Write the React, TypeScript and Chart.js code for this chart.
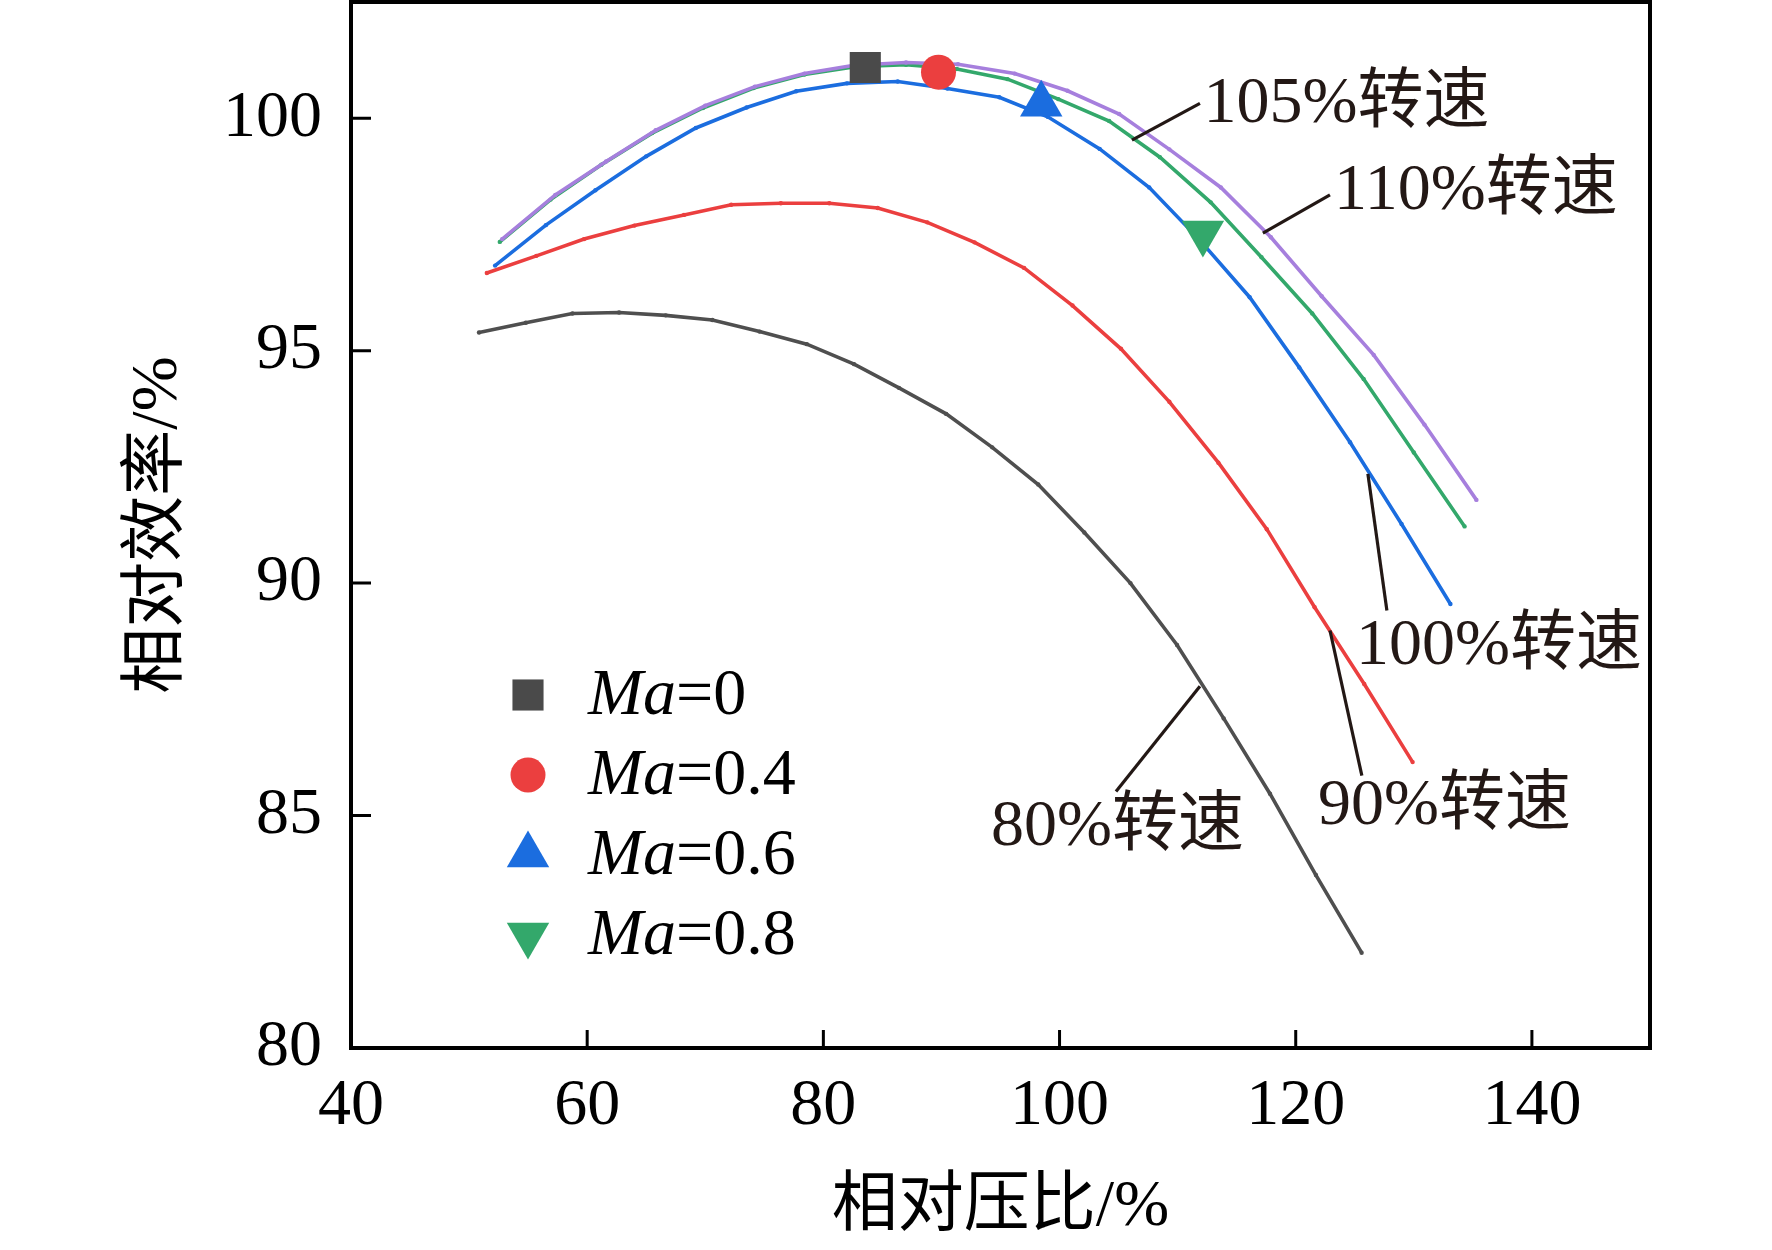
import React, { useEffect, useRef } from 'react';
import { Chart, registerables } from 'chart.js';
import { drawPoint } from 'chart.js/helpers';

Chart.register(...registerables);

const SERIF = "'Liberation Serif', 'Times New Roman', 'Noto Sans CJK SC', serif";
const INK = '#231815';

// speed lines (relative pressure ratio %, relative efficiency %)
const speedNames = ['80%转速', '90%转速', '100%转速', '105%转速', '110%转速'];
const speedColors = ['#4f4f4f', '#eb3f3f', '#1b6ddf', '#33a86b', '#a67fdd'];

const ratio80 = [50.84, 54.8, 58.75, 62.7, 66.65, 70.6, 74.6, 78.6, 82.6, 86.4, 90.4, 94.3, 98.2, 102.1, 106.0, 109.95, 113.9, 117.82, 121.71, 125.58];
const eff80 = [95.39, 95.6, 95.8, 95.82, 95.76, 95.66, 95.41, 95.14, 94.71, 94.2, 93.64, 92.92, 92.12, 91.09, 90.0, 88.67, 87.09, 85.47, 83.72, 82.05];

const ratio90 = [51.5, 55.7, 59.74, 64.0, 68.2, 72.2, 76.4, 80.5, 84.6, 88.8, 92.8, 97.0, 101.1, 105.2, 109.3, 113.45, 117.55, 121.6, 125.8, 129.9];
const eff90 = [96.67, 97.04, 97.4, 97.69, 97.92, 98.14, 98.17, 98.17, 98.07, 97.76, 97.33, 96.78, 95.97, 95.04, 93.9, 92.59, 91.16, 89.48, 87.83, 86.15];

const ratio100 = [52.2, 56.5, 60.7, 65.0, 69.2, 73.5, 77.7, 82.0, 86.3, 90.5, 94.9, 99.0, 103.4, 107.6, 111.8, 116.1, 120.3, 124.6, 128.96, 133.1];
const eff100 = [96.83, 97.7, 98.45, 99.18, 99.79, 100.23, 100.58, 100.75, 100.79, 100.64, 100.45, 100.03, 99.34, 98.51, 97.4, 96.15, 94.64, 93.03, 91.27, 89.55];

const ratio105 = [52.6, 56.9, 61.2, 65.5, 69.8, 74.1, 78.4, 82.7, 87.0, 91.3, 95.6, 99.9, 104.2, 108.5, 112.8, 117.1, 121.4, 125.75, 130.0, 134.3];
const eff105 = [97.34, 98.25, 99.0, 99.68, 100.22, 100.65, 100.94, 101.11, 101.15, 101.06, 100.84, 100.41, 99.94, 99.16, 98.19, 97.01, 95.8, 94.39, 92.81, 91.22];

const ratio110 = [52.8, 57.3, 61.6, 65.8, 70.0, 74.2, 78.4, 82.6, 87.0, 91.4, 96.2, 100.67, 105.05, 109.3, 113.66, 117.9, 122.2, 126.6, 130.9, 135.3];
const eff110 = [97.4, 98.35, 99.07, 99.74, 100.27, 100.68, 100.96, 101.14, 101.2, 101.16, 100.96, 100.59, 100.09, 99.33, 98.51, 97.44, 96.17, 94.91, 93.41, 91.79];

const speedRatios = [ratio80, ratio90, ratio100, ratio105, ratio110];
const speedEffs = [eff80, eff90, eff100, eff105, eff110];

// design points for each flight Mach number
const machLabels = ['Ma=0', 'Ma=0.4', 'Ma=0.6', 'Ma=0.8'];
const machRatio = [83.55, 89.75, 98.45, 112.14];
const machEff = [101.09, 100.99, 100.3, 97.53];
const machColors = ['#4a4a4a', '#eb3f3f', '#1b6ddf', '#33a86b'];
const machStyles = ['rect', 'circle', 'triangle', 'triangle'];
const machRotation = [0, 0, 0, 180];
const machRadius = [22, 17.5, 24.5, 24.5];

// speed-line callouts: leader from curve to text, text anchor (left, middle)
const leaderFromX = [111.89, 122.9, 126.11, 106.13, 117.22];
const leaderFromY = [87.78, 88.98, 92.35, 99.53, 97.53];
const leaderToX = [104.78, 125.6, 127.72, 111.89, 122.9];
const leaderToY = [85.52, 85.86, 89.41, 100.32, 98.35];
const noteX = [94.19, 121.88, 125.1, 112.2, 123.25];
const noteY = [84.73, 85.2, 88.63, 100.3, 98.42];

const frameTicks = {
  id: 'frameTicks',
  afterDatasetsDraw(chart: any) {
    const { ctx, chartArea: a, scales } = chart;
    ctx.save();
    ctx.strokeStyle = '#000';
    ctx.lineWidth = 3;
    ctx.beginPath();
    scales.x.ticks.forEach((t: any) => {
      const px = scales.x.getPixelForValue(t.value);
      const len = t.value % 20 === 0 ? 18 : 10;
      ctx.moveTo(px, a.bottom);
      ctx.lineTo(px, a.bottom - len);
    });
    scales.y.ticks.forEach((t: any) => {
      const py = scales.y.getPixelForValue(t.value);
      const len = t.value % 5 === 0 ? 20 : 11;
      ctx.moveTo(a.left, py);
      ctx.lineTo(a.left + len, py);
    });
    ctx.stroke();
    ctx.lineWidth = 4;
    ctx.strokeRect(a.left, a.top, a.right - a.left, a.bottom - a.top);
    ctx.restore();
  },
};

const speedNotes = {
  id: 'speedNotes',
  afterDatasetsDraw(chart: any) {
    const { ctx, scales: { x, y } } = chart;
    ctx.save();
    ctx.strokeStyle = INK;
    ctx.fillStyle = INK;
    ctx.lineWidth = 3.2;
    ctx.font = `66px ${SERIF}`;
    ctx.textAlign = 'left';
    ctx.textBaseline = 'middle';
    speedNames.forEach((name, i) => {
      ctx.beginPath();
      ctx.moveTo(x.getPixelForValue(leaderFromX[i]), y.getPixelForValue(leaderFromY[i]));
      ctx.lineTo(x.getPixelForValue(leaderToX[i]), y.getPixelForValue(leaderToY[i]));
      ctx.stroke();
      ctx.fillText(name, x.getPixelForValue(noteX[i]), y.getPixelForValue(noteY[i]));
    });
    ctx.restore();
  },
};

const machLegend = {
  id: 'machLegend',
  afterDraw(chart: any) {
    const { ctx, chartArea: a } = chart;
    const items = chart.data.datasets.filter((d: any) => d.isMach);
    ctx.save();
    items.forEach((ds: any, i: number) => {
      const cy = a.top + 693 + i * 80;
      ctx.fillStyle = ds.backgroundColor;
      drawPoint(ctx, { pointStyle: ds.pointStyle, rotation: ds.pointRotation, radius: ds.pointRadius, borderWidth: 0 }, a.left + 177, cy);
      const tx = a.left + 237;
      ctx.fillStyle = '#000';
      ctx.textBaseline = 'middle';
      ctx.textAlign = 'left';
      ctx.font = `italic 66px ${SERIF}`;
      const head = ds.label.slice(0, 2);
      ctx.fillText(head, tx, cy + 2);
      const w = ctx.measureText(head).width;
      ctx.font = `66px ${SERIF}`;
      ctx.fillText(ds.label.slice(2), tx + w, cy + 2);
    });
    ctx.restore();
  },
};

export default function App() {
  const canvasRef = useRef<HTMLCanvasElement>(null);
  const chartRef = useRef<Chart | null>(null);

  useEffect(() => {
    if (chartRef.current) chartRef.current.destroy();
    const ctx = canvasRef.current?.getContext('2d');
    if (!ctx) return;

    const lineSets = speedNames.map((name, i) => ({
      label: name,
      data: speedRatios[i].map((v, k) => ({ x: v, y: speedEffs[i][k] })),
      showLine: true,
      borderColor: speedColors[i],
      backgroundColor: speedColors[i],
      borderWidth: 3.6,
      pointRadius: 2.2,
      pointBorderWidth: 0,
      tension: 0,
      order: 5 - i,
    }));
    const machSets = machLabels.map((name, i) => ({
      label: name,
      isMach: true,
      data: [{ x: machRatio[i], y: machEff[i] }],
      showLine: false,
      backgroundColor: machColors[i],
      borderColor: machColors[i],
      pointStyle: machStyles[i],
      pointRotation: machRotation[i],
      pointRadius: machRadius[i],
      pointBorderWidth: 0,
      order: 0,
    }));

    const tickFont = { family: SERIF, size: 66 };

    chartRef.current = new Chart(ctx, {
      type: 'scatter',
      data: { datasets: [...machSets, ...lineSets] as any },
      options: {
        animation: false,
        responsive: true,
        maintainAspectRatio: false,
        events: [],
        layout: { autoPadding: false, padding: { top: 2, right: 122, bottom: 0, left: 0 } },
        plugins: {
          legend: { display: false },
          tooltip: { enabled: false },
        },
        scales: {
          x: {
            type: 'linear',
            min: 40,
            max: 150,
            afterFit: (s: any) => {
              s.height = 202;
              s.paddingLeft = 0;
              s.paddingRight = 0;
            },
            grid: { display: false, drawTicks: false },
            border: { display: false },
            ticks: {
              stepSize: 10,
              autoSkip: false,
              maxRotation: 0,
              padding: 19,
              color: '#000',
              font: tickFont,
              callback: (v: any) => (v % 20 === 0 && v < 150 ? String(v) : null),
            },
            title: {
              display: true,
              text: '相对压比/%',
              color: '#000',
              font: tickFont,
              padding: { top: 0, bottom: 3 },
            },
          },
          y: {
            type: 'linear',
            min: 80,
            max: 102.5,
            afterFit: (s: any) => {
              s.width = 351;
              s.paddingTop = 0;
              s.paddingBottom = 0;
            },
            grid: { display: false, drawTicks: false },
            border: { display: false },
            ticks: {
              stepSize: 2.5,
              autoSkip: false,
              padding: 29,
              color: '#000',
              font: tickFont,
              callback: (v: any) => (v % 5 === 0 ? String(v) : null),
            },
            title: {
              display: true,
              text: '相对效率/%',
              color: '#000',
              font: tickFont,
              padding: { top: 119, bottom: 0 },
            },
          },
        },
      } as any,
      plugins: [frameTicks, speedNotes, machLegend],
    });

    return () => {
      if (chartRef.current) {
        chartRef.current.destroy();
        chartRef.current = null;
      }
    };
  }, []);

  return (
    <div style={{ position: 'fixed', left: 0, top: 0, width: 1772, height: 1250, background: '#fff' }}>
      <canvas ref={canvasRef} />
    </div>
  );
}
